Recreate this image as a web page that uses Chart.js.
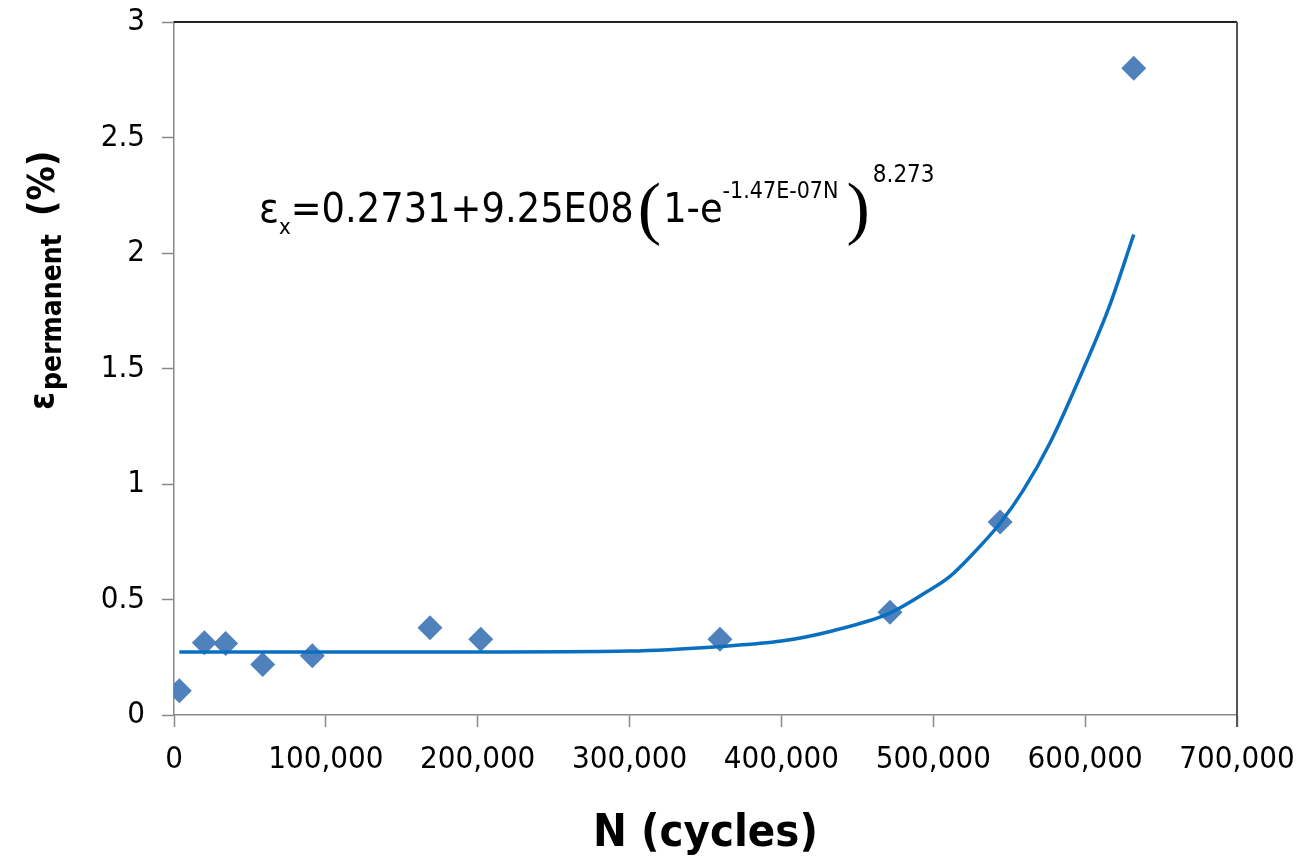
<!DOCTYPE html>
<html>
<head>
<meta charset="utf-8">
<script src="https://cdn.jsdelivr.net/npm/chart.js@4/dist/chart.umd.min.js"></script>
<style>
  html, body { margin: 0; padding: 0; background: #fff; }
  #wrap { width: 1307px; height: 863px; }
</style>
</head>
<body>
<div id="wrap"><canvas id="chart"></canvas></div>
<script>
// measured points
const pointN = [3500, 20000, 34000, 58400, 91100, 168600, 202000, 359500, 471500, 544000, 632000];
const pointStrain = [0.105, 0.313, 0.310, 0.219, 0.257, 0.378, 0.328, 0.328, 0.445, 0.835, 2.80];

// fitted curve
const fitN = [3500, 100000, 200000, 300000, 360000, 400000, 434000, 471000, 495000, 511000, 525000, 544000, 559000, 577000, 599000, 616000, 632000];
const fitStrain = [0.273, 0.273, 0.273, 0.277, 0.297, 0.32, 0.365, 0.44, 0.53, 0.60, 0.69, 0.83, 0.97, 1.18, 1.50, 1.77, 2.08];

const xTicks = [0, 100000, 200000, 300000, 400000, 500000, 600000, 700000];
const yTicks = [0, 0.5, 1, 1.5, 2, 2.5, 3];

const FONT = "'DejaVu Sans Condensed', 'DejaVu Sans', sans-serif";

// titles + equation + frame (rich text, so drawn by hand)
const decor = {
  id: 'decor',
  afterDraw(chart) {
    const { ctx, chartArea: a } = chart;
    ctx.save();
    ctx.lineWidth = 2;
    ctx.strokeStyle = '#222';
    ctx.beginPath();
    ctx.moveTo(a.left, a.top);
    ctx.lineTo(a.right, a.top);
    ctx.stroke();
    ctx.strokeStyle = '#555';
    ctx.beginPath();
    ctx.moveTo(a.right, a.top);
    ctx.lineTo(a.right, a.bottom + 12);
    ctx.stroke();

    ctx.fillStyle = '#000';
    ctx.textBaseline = 'alphabetic';
    ctx.textAlign = 'left';

    // equation
    let x = 259;
    const base = 222;
    const put = (txt, font, dy) => {
      ctx.font = font;
      ctx.fillText(txt, x, base + dy);
      x += ctx.measureText(txt).width;
    };
    const PAREN = `70px 'Liberation Serif', serif`;
    put('ε', `41px ${FONT}`, 0);
    put('x', `22px ${FONT}`, 12);
    put('=0.2731+9.25E08', `41px ${FONT}`, 0);
    x += 4;
    put('(', PAREN, 9);
    x += 2;
    put('1-e', `41px ${FONT}`, 0);
    put('-1.47E-07N', `23px ${FONT}`, -24);
    x += 8;
    put(')', PAREN, 9);
    x += 3;
    put('8.273', `24px ${FONT}`, -40);

    // x title
    ctx.font = `bold 45px ${FONT}`;
    ctx.textAlign = 'center';
    ctx.fillText('N (cycles)', (a.left + a.right) / 2, 846);

    // y title, rotated
    ctx.translate(54, 410);
    ctx.rotate(-Math.PI / 2);
    ctx.textAlign = 'left';
    x = 0;
    const putR = (txt, font, dy) => {
      ctx.font = font;
      ctx.fillText(txt, x, dy);
      x += ctx.measureText(txt).width;
    };
    putR('ε', `bold 36px ${FONT}`, 0);
    x += 2;
    putR('permanent', `bold 28px ${FONT}`, 7);
    x += 18;
    putR('(%)', `bold 38px ${FONT}`, 0);
    ctx.restore();
  }
};

new Chart(document.getElementById('chart'), {
  type: 'scatter',
  data: {
    datasets: [
      {
        label: 'fit',
        data: fitN.map((n, i) => ({ x: n, y: fitStrain[i] })),
        showLine: true,
        borderColor: '#0B6FC0',
        borderWidth: 3.5,
        pointRadius: 0,
        cubicInterpolationMode: 'monotone'
      },
      {
        label: 'measured',
        data: pointN.map((n, i) => ({ x: n, y: pointStrain[i] })),
        pointStyle: 'rectRot',
        pointRadius: 12.5,
        backgroundColor: '#4F81BD',
        borderColor: '#4F81BD',
        borderWidth: 0
      }
    ]
  },
  options: {
    responsive: true,
    maintainAspectRatio: false,
    animation: false,
    layout: { padding: { top: 22, right: 70, left: 0, bottom: 0 } },
    plugins: { legend: { display: false }, tooltip: { enabled: false } },
    scales: {
      x: {
        type: 'linear',
        min: 0, max: 700000,
        afterFit: s => { s.height = 148; s.paddingLeft = 0; s.paddingRight = 0; },
        afterBuildTicks: s => { s.ticks = xTicks.map(v => ({ value: v })); },
        grid: { drawOnChartArea: false, drawTicks: true, tickLength: 12, tickColor: '#888', tickWidth: 1.5 },
        border: { color: '#888', width: 1.5 },
        ticks: {
          color: '#000', padding: 14,
          font: { family: FONT, size: 31 },
          maxRotation: 0,
          callback: v => v.toLocaleString('en-US')
        }
      },
      y: {
        min: 0, max: 3,
        afterFit: s => { s.width = 174; s.paddingTop = 0; s.paddingBottom = 0; },
        afterBuildTicks: s => { s.ticks = yTicks.map(v => ({ value: v })); },
        grid: { drawOnChartArea: false, drawTicks: true, tickLength: 12, tickColor: '#888', tickWidth: 1.5 },
        border: { color: '#888', width: 1.5 },
        ticks: {
          color: '#000', padding: 17,
          font: { family: FONT, size: 31 },
          callback: v => String(v)
        }
      }
    }
  },
  plugins: [decor]
});
</script>
</body>
</html>
